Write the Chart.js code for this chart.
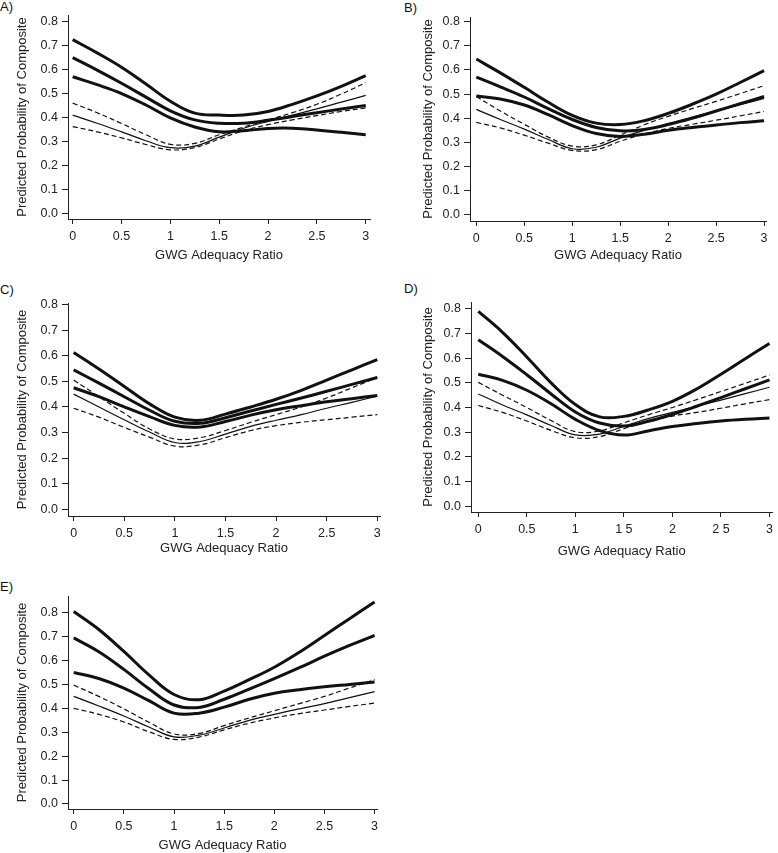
<!DOCTYPE html>
<html><head><meta charset="utf-8">
<script src="https://cdn.jsdelivr.net/npm/chart.js@4.4.1/dist/chart.umd.min.js"></script>
<style>
body{margin:0;background:#fff;width:778px;height:853px;position:relative;overflow:hidden;font-family:"Liberation Sans",Arial,sans-serif;}
canvas{position:absolute;}
.lbl{position:absolute;font-size:13px;color:#111;line-height:14px;font-family:"Liberation Sans",Arial,sans-serif;}
</style></head><body>
<script>
// ---- data ----
const xValues = [0, 0.25, 0.5, 0.75, 1, 1.25, 1.5, 1.75, 2, 2.25, 2.5, 2.75, 3];
const xTickValues = [0, 0.5, 1, 1.5, 2, 2.5, 3];
const xTickLabels = ['0', '0.5', '1', '1.5', '2', '2.5', '3'];
const xTickLabelsD = ['0', '0.5', '1', '1 5', '2', '2 5', '3'];
const yTickValues = [0, 0.1, 0.2, 0.3, 0.4, 0.5, 0.6, 0.7, 0.8];
const yTickLabels = ['0.0', '0.1', '0.2', '0.3', '0.4', '0.5', '0.6', '0.7', '0.8'];
const panelLetters = ['A)', 'B)', 'C)', 'D)', 'E)'];
const xAxisTitle = 'GWG Adequacy Ratio';
const yAxisTitle = 'Predicted Probability of Composite';

// Panel A
const aThickUpper = [0.725, 0.67, 0.61, 0.54, 0.468, 0.418, 0.41, 0.41, 0.425, 0.455, 0.49, 0.53, 0.575];
const aThickMid   = [0.65, 0.598, 0.543, 0.485, 0.428, 0.39, 0.376, 0.376, 0.388, 0.404, 0.42, 0.435, 0.45];
const aThickLower = [0.57, 0.537, 0.5, 0.452, 0.398, 0.36, 0.34, 0.345, 0.354, 0.355, 0.348, 0.338, 0.328];
const aThinUpper  = [0.46, 0.42, 0.375, 0.328, 0.288, 0.292, 0.328, 0.36, 0.39, 0.42, 0.455, 0.498, 0.545];
const aThinMid    = [0.41, 0.376, 0.34, 0.303, 0.274, 0.28, 0.318, 0.355, 0.384, 0.41, 0.436, 0.464, 0.492];
const aThinLower  = [0.362, 0.34, 0.315, 0.287, 0.265, 0.274, 0.31, 0.345, 0.37, 0.39, 0.408, 0.425, 0.44];
// Panel B
const bThickUpper = [0.645, 0.588, 0.528, 0.466, 0.412, 0.38, 0.374, 0.39, 0.42, 0.458, 0.5, 0.548, 0.597];
const bThickMid   = [0.57, 0.53, 0.488, 0.44, 0.395, 0.362, 0.348, 0.354, 0.374, 0.4, 0.43, 0.46, 0.49];
const bThickLower = [0.492, 0.48, 0.455, 0.415, 0.37, 0.337, 0.325, 0.334, 0.35, 0.362, 0.372, 0.382, 0.39];
const bThinUpper  = [0.49, 0.43, 0.375, 0.322, 0.285, 0.29, 0.33, 0.373, 0.408, 0.44, 0.47, 0.502, 0.535];
const bThinMid    = [0.437, 0.395, 0.355, 0.312, 0.274, 0.28, 0.318, 0.35, 0.378, 0.405, 0.43, 0.456, 0.482];
const bThinLower  = [0.383, 0.36, 0.33, 0.297, 0.267, 0.27, 0.305, 0.335, 0.358, 0.375, 0.392, 0.41, 0.428];
// Panel C
const cThickUpper = [0.613, 0.548, 0.48, 0.412, 0.36, 0.348, 0.372, 0.4, 0.43, 0.465, 0.505, 0.545, 0.585];
const cThickMid   = [0.545, 0.493, 0.44, 0.387, 0.344, 0.336, 0.358, 0.384, 0.41, 0.435, 0.461, 0.488, 0.515];
const cThickLower = [0.475, 0.44, 0.4, 0.362, 0.328, 0.322, 0.343, 0.368, 0.389, 0.405, 0.42, 0.432, 0.445];
const cThinUpper  = [0.505, 0.44, 0.375, 0.314, 0.275, 0.28, 0.308, 0.34, 0.37, 0.4, 0.435, 0.475, 0.515];
const cThinMid    = [0.45, 0.4, 0.35, 0.302, 0.261, 0.265, 0.294, 0.324, 0.348, 0.37, 0.395, 0.418, 0.442];
const cThinLower  = [0.395, 0.36, 0.32, 0.282, 0.247, 0.252, 0.28, 0.308, 0.327, 0.34, 0.35, 0.36, 0.37];
// Panel D
const dThickUpper = [0.79, 0.705, 0.605, 0.5, 0.412, 0.362, 0.364, 0.39, 0.425, 0.475, 0.535, 0.598, 0.66];
const dThickMid   = [0.675, 0.607, 0.533, 0.455, 0.382, 0.337, 0.325, 0.344, 0.372, 0.405, 0.44, 0.476, 0.512];
const dThickLower = [0.535, 0.51, 0.47, 0.415, 0.352, 0.306, 0.288, 0.305, 0.323, 0.335, 0.345, 0.352, 0.357];
const dThinUpper  = [0.502, 0.45, 0.4, 0.347, 0.302, 0.305, 0.338, 0.37, 0.4, 0.432, 0.465, 0.498, 0.532];
const dThinMid    = [0.455, 0.41, 0.37, 0.327, 0.289, 0.292, 0.324, 0.355, 0.38, 0.405, 0.43, 0.456, 0.482];
const dThinLower  = [0.408, 0.38, 0.345, 0.307, 0.277, 0.282, 0.314, 0.344, 0.365, 0.38, 0.397, 0.415, 0.432];
// Panel E
const eThickUpper = [0.805, 0.73, 0.638, 0.54, 0.458, 0.436, 0.472, 0.52, 0.572, 0.635, 0.705, 0.775, 0.845];
const eThickMid   = [0.695, 0.637, 0.563, 0.482, 0.414, 0.404, 0.438, 0.48, 0.524, 0.57, 0.618, 0.663, 0.705];
const eThickLower = [0.55, 0.525, 0.485, 0.432, 0.38, 0.38, 0.405, 0.438, 0.463, 0.478, 0.49, 0.5, 0.51];
const eThinUpper  = [0.497, 0.45, 0.398, 0.342, 0.293, 0.295, 0.328, 0.36, 0.39, 0.42, 0.45, 0.485, 0.52];
const eThinMid    = [0.45, 0.41, 0.368, 0.322, 0.281, 0.288, 0.318, 0.35, 0.375, 0.398, 0.42, 0.445, 0.47];
const eThinLower  = [0.4, 0.375, 0.343, 0.302, 0.27, 0.28, 0.31, 0.338, 0.36, 0.378, 0.393, 0.408, 0.422];

const panelSeries = [
  [aThickUpper, aThickMid, aThickLower, aThinUpper, aThinMid, aThinLower],
  [bThickUpper, bThickMid, bThickLower, bThinUpper, bThinMid, bThinLower],
  [cThickUpper, cThickMid, cThickLower, cThinUpper, cThinMid, cThinLower],
  [dThickUpper, dThickMid, dThickLower, dThinUpper, dThinMid, dThinLower],
  [eThickUpper, eThickMid, eThickLower, eThinUpper, eThinMid, eThinLower]
];
const panelXLabels = [xTickLabels, xTickLabels, xTickLabels, xTickLabelsD, xTickLabels];

// ---- layout (page pixels) ----
const layouts = [
  {cx:0,   cy:0,   cw:389, ch:275, L:68,  T:15,  R:370, B:219, xmin:-0.048, xmax:3.044, ymin:-0.024, ymax:0.828, yTitleX:22,  xTitleY:255, lx:0,   ly:0},
  {cx:389, cy:0,   cw:389, ch:275, L:470, T:17,  R:766, B:221, xmin:-0.066, xmax:3.02,  ymin:-0.025, ymax:0.819, yTitleX:428, xTitleY:255, lx:404, ly:1},
  {cx:0,   cy:280, cw:389, ch:280, L:68,  T:303, R:380, B:516, xmin:-0.056, xmax:3.027, ymin:-0.026, ymax:0.806, yTitleX:22,  xTitleY:548, lx:0,   ly:283},
  {cx:389, cy:280, cw:389, ch:280, L:471, T:302, R:774, B:512, xmin:-0.075, xmax:3.03,  ymin:-0.024, ymax:0.828, yTitleX:428, xTitleY:551, lx:404, ly:282},
  {cx:0,   cy:560, cw:389, ch:293, L:68,  T:596, R:377, B:809, xmin:-0.057, xmax:3.024, ymin:-0.021, ymax:0.87,  yTitleX:22,  xTitleY:846, lx:0,   ly:580}
];

const styles = [
  {w:3, dash:[]}, {w:3, dash:[]}, {w:3, dash:[]},
  {w:1.2, dash:[5,3]}, {w:1.2, dash:[]}, {w:1.2, dash:[5,3]}
];

const FONT = '"Liberation Sans", Arial, sans-serif';
const INK = '#111';

layouts.forEach((lay, p) => {
  const lbl = document.createElement('div');
  lbl.className = 'lbl';
  lbl.style.left = lay.lx + 'px';
  lbl.style.top = lay.ly + 'px';
  lbl.textContent = panelLetters[p];
  document.body.appendChild(lbl);

  const cv = document.createElement('canvas');
  cv.style.left = lay.cx + 'px';
  cv.style.top = lay.cy + 'px';
  cv.style.width = lay.cw + 'px';
  cv.style.height = lay.ch + 'px';
  cv.width = lay.cw; cv.height = lay.ch;
  document.body.appendChild(cv);

  const titleLH = 13 * 1.2;
  const datasets = panelSeries[p].map((vals, i) => ({
    data: xValues.map((x, k) => ({x: x, y: vals[k]})),
    borderColor: INK,
    borderWidth: styles[i].w,
    borderDash: styles[i].dash,
    pointRadius: 0,
    tension: 0.4,
    fill: false,
    order: i < 3 ? 0 : 1
  }));
  const xLabels = panelXLabels[p];

  new Chart(cv, {
    type: 'line',
    data: {datasets},
    options: {
      responsive: false,
      animation: false,
      devicePixelRatio: 1,
      layout: {padding: {left: 0, top: lay.T - lay.cy, right: lay.cx + lay.cw - lay.R, bottom: 0}},
      plugins: {legend: {display: false}, tooltip: {enabled: false}},
      scales: {
        x: {
          type: 'linear', min: lay.xmin, max: lay.xmax,
          afterBuildTicks: s => { s.ticks = xTickValues.map(v => ({value: v})); },
          afterFit: s => { s.height = lay.cy + lay.ch - lay.B; },
          ticks: {
            autoSkip: false, maxRotation: 0, padding: 5, color: '#222',
            font: {family: FONT, size: 12.5},
            callback: (v, i) => xLabels[i]
          },
          grid: {drawOnChartArea: false, drawTicks: true, tickLength: 5, tickColor: '#222'},
          border: {display: true, color: '#222', width: 1},
          title: {
            display: true, text: xAxisTitle, color: '#222',
            font: {family: FONT, size: 13},
            padding: {top: 0, bottom: Math.max(0, (lay.cy + lay.ch - lay.xTitleY) - titleLH / 2)}
          }
        },
        y: {
          type: 'linear', min: lay.ymin, max: lay.ymax,
          afterBuildTicks: s => { s.ticks = yTickValues.map(v => ({value: v})); },
          afterFit: s => { s.width = lay.L - lay.cx; },
          ticks: {
            autoSkip: false, padding: 4, color: '#222',
            font: {family: FONT, size: 12.5},
            callback: (v, i) => yTickLabels[i]
          },
          grid: {drawOnChartArea: false, drawTicks: true, tickLength: 6, tickColor: '#222'},
          border: {display: true, color: '#222', width: 1},
          title: {
            display: true, text: yAxisTitle, color: '#222',
            font: {family: FONT, size: 13},
            padding: {top: (lay.yTitleX - lay.cx) - titleLH / 2, bottom: 0}
          }
        }
      }
    }
  });
});
</script>
</body></html>
